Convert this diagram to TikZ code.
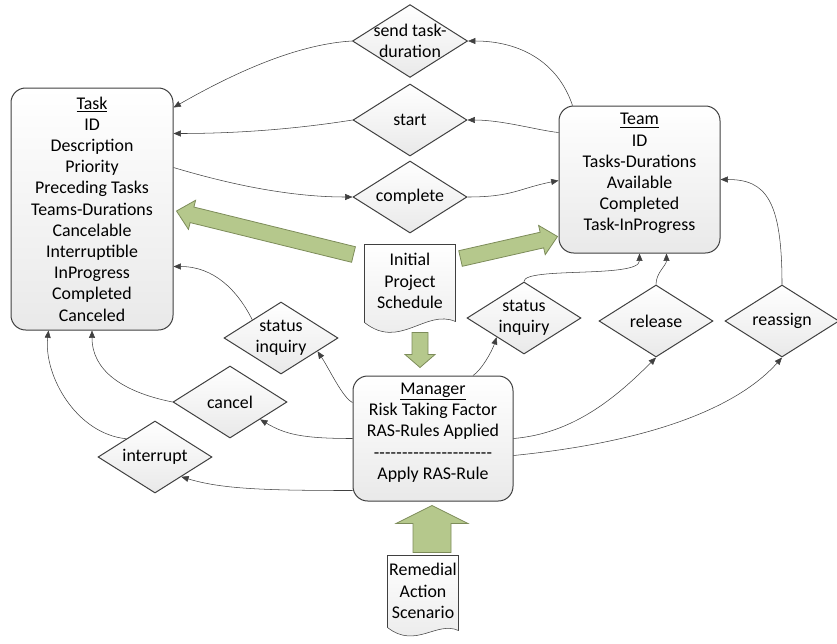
\documentclass[tikz,border=0pt]{standalone}
\usepackage{fontspec}
\setmainfont{Carlito}
\usetikzlibrary{arrows.meta,calc,shapes.geometric,backgrounds}

\definecolor{linegray}{RGB}{64,64,64}
\definecolor{boxgray}{RGB}{233,233,233}
\definecolor{olivefill}{RGB}{181,200,140}
\definecolor{oliveline}{RGB}{125,140,90}

\newcommand{\dashrule}{\hbox to 89pt{\xleaders\hbox{-}\hfill}}
% tail, tip, half shaft, half head, head length
\newcommand{\greenarrow}[5]{%
  \coordinate (ga-n) at ($(#2)!#5!(#1)$);
  \draw[bigarrow] ($(#1)!#3!90:(#2)$) -- ($(ga-n)!#3!90:(#2)$) -- ($(ga-n)!#4!90:(#2)$) -- (#2)
    -- ($(ga-n)!#4!-90:(#2)$) -- ($(ga-n)!#3!-90:(#2)$) -- ($(#1)!#3!-90:(#2)$) -- cycle;
}

\tikzset{every picture/.style={line width=0.75pt}}
\tikzset{
  entity/.style={draw=linegray, rounded corners=11pt, top color=white, bottom color=boxgray,
    align=center, font=\fontsize{13.4}{15.9}\selectfont, inner sep=2pt},
  decision/.style={diamond, draw=linegray, top color=white, bottom color=boxgray, aspect=1.58,
    inner sep=0pt, minimum width=85.5pt, minimum height=54pt, align=center,
    font=\fontsize{13.4}{15.9}\selectfont},
  doctext/.style={align=center, font=\fontsize{13.4}{15.9}\selectfont, inner sep=0pt},
  docshape/.style={draw=linegray, top color=white, bottom color=boxgray},
  flow/.style={draw=linegray, -{Triangle[length=5.5pt,width=4.5pt]}},
  bigarrow/.style={draw=oliveline, fill=olivefill, line width=0.6pt}
}

\begin{document}
\begin{tikzpicture}[x=0.75pt,y=0.75pt,yscale=-1,xscale=1]
\useasboundingbox (0,0) rectangle (837,643);

% Boxes
\node[entity, minimum width=121.5pt, minimum height=181.5pt] (task) at (92,209)
  {\underline{Task}\\ID\\Description\\Priority\\Preceding Tasks\\Teams-Durations\\Cancelable\\Interruptible\\InProgress\\Completed\\Canceled};
\node[entity, minimum width=120.75pt, minimum height=110.25pt, text depth=11pt] (team) at (639.5,179.5)
  {\underline{Team}\\ID\\Tasks-Durations\\Available\\Completed\\Task-InProgress};
\node[entity, minimum width=120pt, minimum height=93.75pt, text depth=11pt] (manager) at (433,438.5)
  {\underline{Manager}\\Risk Taking Factor\\RAS-Rules Applied\\\dashrule\\Apply RAS-Rule};

% Decisions
\node[decision] (send) at (410,41) {\makebox[37.5pt]{send task-}\\duration};
\node[decision] (start) at (410,120) {start};
\node[decision] (complete) at (410,197) {complete};
\node[decision] (sinq1) at (281,338) {status\\inquiry};
\node[decision] (cancel) at (230,402) {cancel};
\node[decision] (interrupt) at (155,457) {interrupt};
\node[decision] (sinq2) at (524,318) {status\\inquiry};
\node[decision] (release) at (656,321) {release};
\node[decision] (reassign) at (782,321) {reassign};

% Documents
\node[doctext, minimum width=67.5pt, minimum height=54pt] (ips) at (410,281) {Initial\\Project\\Schedule};
\node[doctext, minimum width=52.5pt, minimum height=52.5pt] (rem) at (423,591) {Remedial\\Action\\Scenario};
\begin{pgfonlayer}{background}
\draw[docshape] (ips.north west) -- (ips.north east) -- ($(ips.south east)+(0,4)$)
  .. controls +(-30,-13) and +(35,28) .. ($(ips.south west)+(0,5)$) -- cycle;
\draw[docshape] (rem.north west) -- (rem.north east) -- ($(rem.south east)+(0,4)$)
  .. controls +(-22,-10) and +(28,22) .. ($(rem.south west)+(0,1)$) -- cycle;
\end{pgfonlayer}

% Block arrows
\coordinate (lt) at ($(ips.north west)+(-11,10)$);
\coordinate (lh) at ($(task.east)+(3,2)$);
\coordinate (rt) at ($(ips.north east)+(5,14)$);
\coordinate (rh) at ($(team.south west)+(-1,-17)$);
\coordinate (dt) at ($(ips.south)+(10,15)$);
\coordinate (dh) at ($(manager.north)+(-13,-8)$);
\coordinate (ut) at ($(rem.north)+(9,-3)$);
\coordinate (uh) at ($(manager.south)+(-1,4)$);
\greenarrow{lt}{lh}{6pt}{11.25pt}{12pt}
\greenarrow{rt}{rh}{6pt}{11.25pt}{12pt}
\greenarrow{dt}{dh}{6pt}{11.25pt}{9.75pt}
\greenarrow{ut}{uh}{14.25pt}{27pt}{13.5pt}

% Messages
\draw[flow] ($(team.north west)+(14,0)$) .. controls +(-15,-45) and +(50,0) .. (send.east);
\draw[flow] (send.west) .. controls +(-50,3) and +(70,-40) .. ($(task.north east)+(0,20)$);
\draw[flow] ($(team.north west)+(0,27)$) .. controls +(-20,-2) and +(35,0) .. (start.east);
\draw[flow] (start.west) .. controls +(-50,8) and +(70,0) .. ($(task.north east)+(0,46)$);
\draw[flow] ($(task.north east)+(0,80)$) .. controls +(60,18) and +(-60,0) .. (complete.west);
\draw[flow] (complete.east) .. controls +(45,0) and +(-40,8) .. ($(team.north west)+(0,75)$);
\draw[flow] (sinq1.north west) .. controls +(-15,-30) and +(40,0) .. ($(task.north east)+(0,179)$);
\draw[flow] ($(manager.north west)+(0,27)$) .. controls +(-10,-5) and +(12,18) .. (sinq1.-20);
\draw[flow] (manager.west) .. controls +(-50,0) and +(25,15) .. (cancel.-30);
\draw[flow] (cancel.west) .. controls +(-50,-10) and +(0,40) .. (task.south);
\draw[flow] ($(manager.south west)+(0,-11)$) .. controls +(-90,0) and +(40,12) .. (interrupt.-37);
\draw[flow] (interrupt.north west) .. controls +(-50,-5) and +(-5,45) .. ($(task.south west)+(38,0)$);
\draw[flow] ($(manager.north)+(40,0)$) .. controls +(8,-5) and +(-5,15) .. (sinq2.215);
\draw[flow] (sinq2.north) .. controls +(0,-15) and +(0,25) .. (team.south);
\draw[flow] (release.north) .. controls +(0,-12) and +(0,12) .. ($(team.south)+(27,0)$);
\draw[flow] (reassign.north) .. controls +(0,-85) and +(45,0) .. (team.east);
\draw[flow] (manager.east) .. controls +(60,-5) and +(-40,40) .. (release.south);
\draw[flow] ($(manager.east)+(0,17)$) .. controls +(150,-15) and +(-40,45) .. (reassign.south);

\end{tikzpicture}
\end{document}
